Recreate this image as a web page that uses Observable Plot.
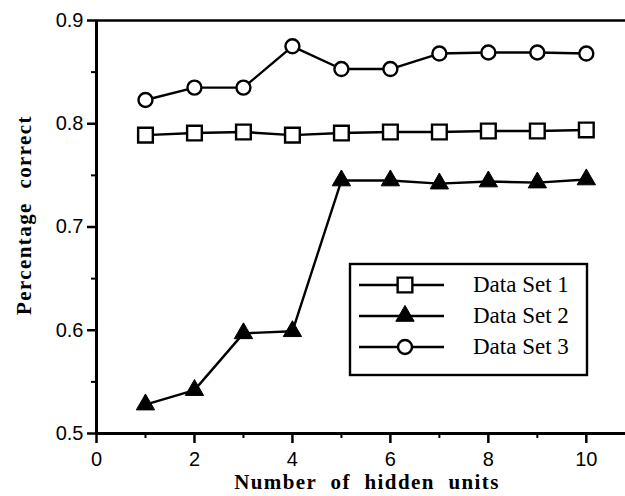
<!DOCTYPE html>
<html>
<head>
<meta charset="utf-8">
<script src="https://cdn.jsdelivr.net/npm/d3@7"></script>
<script src="https://cdn.jsdelivr.net/npm/@observablehq/plot@0.6"></script>
<style>
  html, body { margin: 0; padding: 0; background: #fff; }
  #chart { width: 625px; height: 496px; }
</style>
</head>
<body>
<div id="chart"></div>
<script>
// ---- data ----
const hiddenUnits = [1, 2, 3, 4, 5, 6, 7, 8, 9, 10];
const dataSet1 = [0.789, 0.791, 0.792, 0.789, 0.791, 0.792, 0.792, 0.793, 0.793, 0.794];
const dataSet2 = [0.528, 0.542, 0.597, 0.599, 0.745, 0.745, 0.742, 0.744, 0.743, 0.746];
const dataSet3 = [0.823, 0.835, 0.835, 0.875, 0.853, 0.853, 0.868, 0.869, 0.869, 0.868];
const seriesNames = ["Data Set 1", "Data Set 2", "Data Set 3"];
const xMajorTicks = [0, 2, 4, 6, 8, 10];
const xMinorTicks = [1, 3, 5, 7, 9];
const yMajorTicks = [0.5, 0.6, 0.7, 0.8, 0.9];
const yMinorTicks = [0.55, 0.65, 0.75, 0.85];
const xTitle = "Number of hidden units";
const yTitle = "Percentage correct";

const toRows = (vals) => hiddenUnits.map((u, i) => ({units: u, pct: vals[i]}));
const s1 = toRows(dataSet1), s2 = toRows(dataSet2), s3 = toRows(dataSet3);

const tickFont = "Liberation Sans, Arial, sans-serif";
const serif = "Liberation Serif, Times New Roman, serif";

const plot = Plot.plot({
  width: 625,
  height: 496,
  marginLeft: 96,
  marginRight: 0,
  marginTop: 20,
  marginBottom: 63,
  style: {fontFamily: tickFont, fontSize: "20px", color: "#000", background: "#fff"},
  x: {domain: [0, 10.8]},
  y: {domain: [0.5, 0.9]},
  marks: [
    Plot.axisY(yMajorTicks, {tickSize: 9, tickPadding: 4, strokeWidth: 2.5, tickFormat: d => d.toFixed(1), label: null, fontSize: 20}),
    Plot.axisY(yMinorTicks, {tickSize: 5, strokeWidth: 2, tickFormat: () => "", label: null}),
    Plot.axisX(xMajorTicks, {tickSize: 10, tickPadding: 8, strokeWidth: 2.5, tickFormat: d => String(d), label: null, fontSize: 20}),
    Plot.axisX(xMinorTicks, {tickSize: 5, strokeWidth: 2, tickFormat: () => "", label: null}),
    Plot.ruleX([0], {strokeWidth: 3}),
    Plot.ruleY([0.5], {strokeWidth: 3}),
    Plot.ruleY([0.9], {strokeWidth: 2.5}),
    Plot.line(s1, {x: "units", y: "pct", stroke: "#000", strokeWidth: 2.4}),
    Plot.line(s2, {x: "units", y: "pct", stroke: "#000", strokeWidth: 2.4}),
    Plot.line(s3, {x: "units", y: "pct", stroke: "#000", strokeWidth: 2.4}),
    Plot.dot(s1, {x: "units", y: "pct", symbol: "square", r: 8.3, fill: "#fff", stroke: "#000", strokeWidth: 2.4}),
    Plot.dot(s2, {x: "units", y: "pct", symbol: "triangle", r: 6.8, fill: "#000", stroke: "#000", strokeWidth: 1}),
    Plot.dot(s3, {x: "units", y: "pct", symbol: "circle", r: 7, fill: "#fff", stroke: "#000", strokeWidth: 2.4})
  ]
});

document.getElementById("chart").appendChild(plot);

// ---- titles and legend (added to the Plot SVG) ----
const svg = d3.select(plot);

svg.append("text")
  .attr("x", 367).attr("y", 489)
  .attr("text-anchor", "middle")
  .style("font-family", serif).style("font-weight", "bold").style("font-size", "21px")
  .style("letter-spacing", "1.4px").style("word-spacing", "7px")
  .text(xTitle);

svg.append("text")
  .attr("transform", "translate(31,215) rotate(-90)")
  .attr("text-anchor", "middle")
  .style("font-family", serif).style("font-weight", "bold").style("font-size", "21px")
  .style("letter-spacing", "1.4px").style("word-spacing", "7px")
  .text(yTitle);

const legend = svg.append("g");
legend.append("rect")
  .attr("x", 350).attr("y", 264).attr("width", 237).attr("height", 111)
  .attr("fill", "#fff").attr("stroke", "#000").attr("stroke-width", 2.4);

const symbols = [d3.symbolSquare, d3.symbolTriangle, d3.symbolCircle];
const symSizes = [Math.PI * 8.3 * 8.3, Math.PI * 6.8 * 6.8, Math.PI * 7 * 7];
const symFill = ["#fff", "#000", "#fff"];
seriesNames.forEach((name, i) => {
  const yy = 285 + i * 31;
  legend.append("line")
    .attr("x1", 359).attr("x2", 444).attr("y1", yy).attr("y2", yy)
    .attr("stroke", "#000").attr("stroke-width", 2.4);
  legend.append("path")
    .attr("d", d3.symbol(symbols[i], symSizes[i])())
    .attr("transform", `translate(405,${yy})`)
    .attr("fill", symFill[i]).attr("stroke", "#000").attr("stroke-width", i === 1 ? 1 : 2.4);
  legend.append("text")
    .attr("x", 473).attr("y", yy + 7)
    .attr("text-anchor", "start")
    .style("font-family", serif).style("font-size", "23px")
    .text(name);
});
</script>
</body>
</html>
